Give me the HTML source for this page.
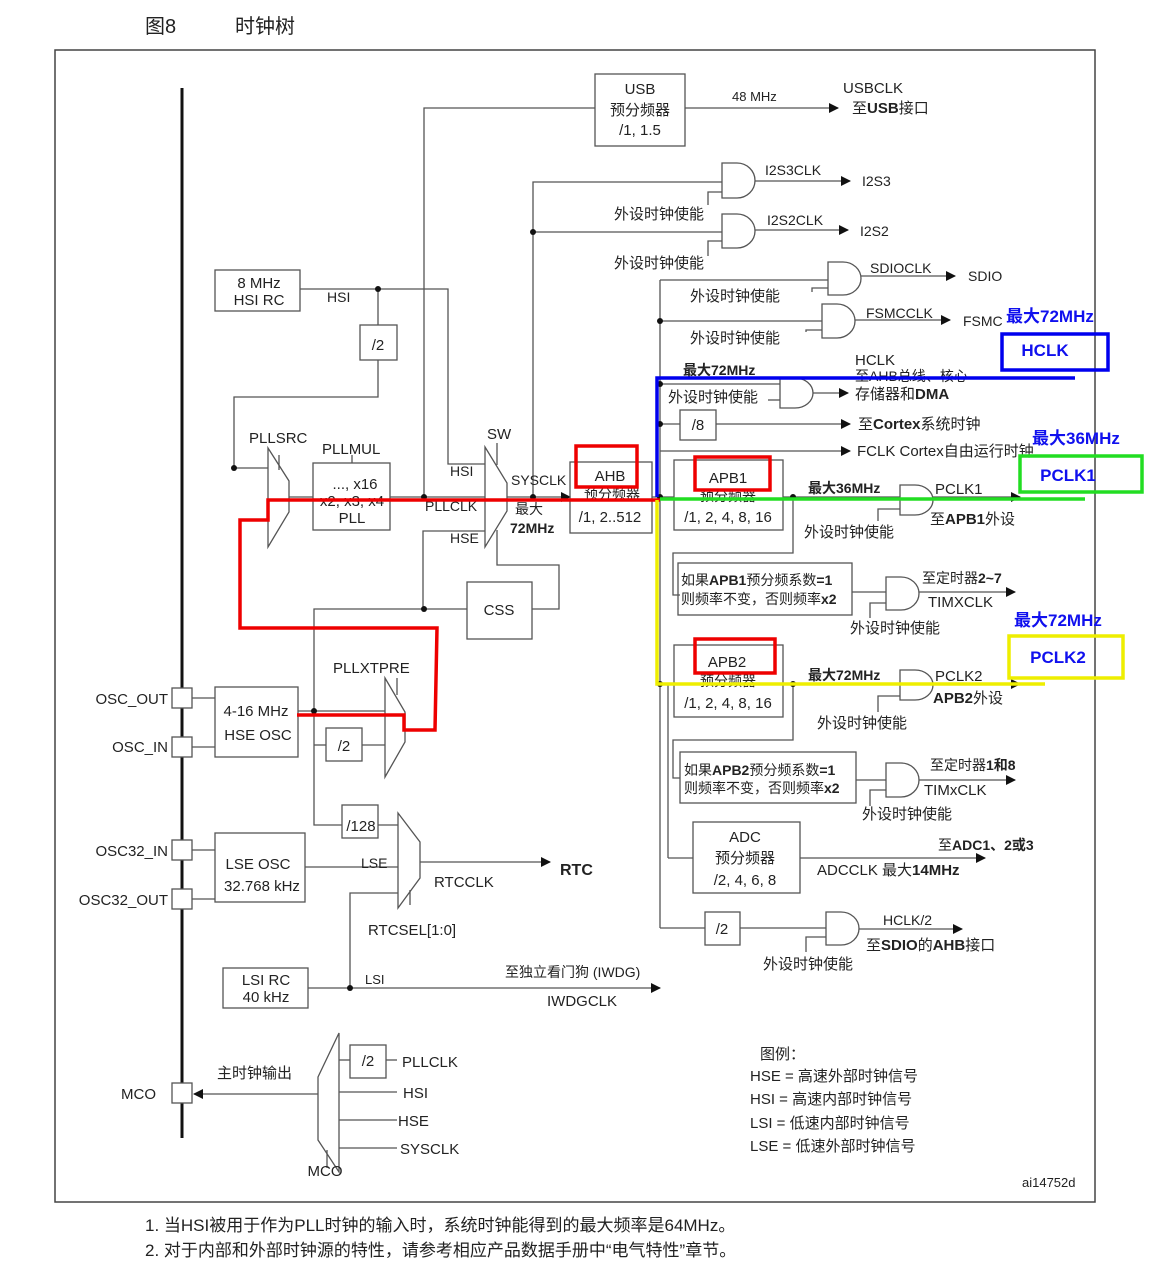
<!DOCTYPE html>
<html><head><meta charset="utf-8"><style>
html,body{margin:0;padding:0;background:#fff}
svg{display:block}
text{font-family:"Liberation Sans","Noto Sans CJK SC",sans-serif;fill:#222;font-size:15px}
.b{font-weight:bold}
.c{text-anchor:middle}
.r{text-anchor:end}
.bl{fill:#1010ee;font-weight:bold;font-size:17px}
</style></head><body>
<svg width="1152" height="1262" viewBox="0 0 1152 1262" xmlns="http://www.w3.org/2000/svg">
<defs><marker id="a" markerWidth="10" markerHeight="10" refX="9" refY="5" orient="auto" markerUnits="userSpaceOnUse"><path d="M0,0 L10,5 L0,10 z" fill="#111"/></marker></defs>
<text x="145" y="33" style="font-size:20px">图8</text><text x="235" y="33" style="font-size:20px">时钟树</text>
<rect x="55" y="50" width="1040" height="1152" fill="none" stroke="#444" stroke-width="1.5"/>
<line x1="182" y1="88" x2="182" y2="1138" stroke="#111" stroke-width="3"/>
<g fill="none" stroke="#555" stroke-width="1.3">
<!-- USB -->
<rect x="595" y="74" width="90" height="72"/>
<polyline points="424,497 424,108 595,108"/>
<line x1="685" y1="108" x2="838" y2="108" marker-end="url(#a)"/>
<!-- I2S -->
<polyline points="533,497 533,182 722,182"/>
<line x1="533" y1="232" x2="722" y2="232"/>
<path d="M722 163 H737 A18 17.5 0 0 1 737 198 H722 Z"/>
<path d="M722 214 H737 A18 17 0 0 1 737 248 H722 Z"/>
<line x1="755" y1="181" x2="850" y2="181" marker-end="url(#a)"/>
<line x1="755" y1="230" x2="848" y2="230" marker-end="url(#a)"/>
<polyline points="708,205 708,192 722,192"/><polyline points="708,256 708,241 722,241"/>
<!-- main bus -->
<line x1="660" y1="280" x2="660" y2="928"/>
<line x1="660" y1="280" x2="828" y2="280"/>
<path d="M828 262 H843 A18 16.5 0 0 1 843 295 H828 Z"/>
<line x1="861" y1="276" x2="955" y2="276" marker-end="url(#a)"/>
<line x1="660" y1="321" x2="822" y2="321"/>
<path d="M822 304 H837 A18 17 0 0 1 837 338 H822 Z"/>
<line x1="855" y1="320" x2="950" y2="320" marker-end="url(#a)"/>
<polyline points="812,292 812,288 828,288"/><polyline points="806,332 806,330 822,330"/>
<line x1="660" y1="384" x2="780" y2="384"/>
<path d="M780 378 H795 A18 15 0 0 1 795 408 H780 Z"/>
<line x1="768" y1="400" x2="780" y2="400"/>
<line x1="813" y1="393" x2="848" y2="393" marker-end="url(#a)"/>
<rect x="680" y="410" width="36" height="30"/>
<line x1="660" y1="424" x2="680" y2="424"/>
<line x1="716" y1="424" x2="850" y2="424" marker-end="url(#a)"/>
<line x1="660" y1="451" x2="850" y2="451" marker-end="url(#a)"/>
<!-- APB1 -->
<rect x="674" y="460" width="109" height="70"/>
<line x1="783" y1="497" x2="900" y2="497"/>
<path d="M900 485 H915 A18 15 0 0 1 915 515 H900 Z"/>
<line x1="933" y1="497" x2="1020" y2="497" marker-end="url(#a)"/>
<polyline points="878,521 878,509 900,509"/>
<polyline points="793,497 793,553 673,553 673,595 680,595"/>
<rect x="678" y="563" width="174" height="52"/>
<line x1="852" y1="592" x2="886" y2="592"/>
<path d="M886 577 H901 A18 16.5 0 0 1 901 610 H886 Z"/>
<polyline points="870,618 870,603 886,603"/>
<line x1="919" y1="592" x2="1015" y2="592" marker-end="url(#a)"/>
<!-- APB2 -->
<rect x="674" y="645" width="109" height="72"/>
<line x1="783" y1="684" x2="900" y2="684"/>
<path d="M900 670 H915 A18 15 0 0 1 915 700 H900 Z"/>
<line x1="933" y1="684" x2="1020" y2="684" marker-end="url(#a)"/>
<polyline points="878,712 878,696 900,696"/>
<polyline points="793,684 793,740 673,740 673,778 680,778"/>
<rect x="680" y="752" width="176" height="51"/>
<line x1="856" y1="780" x2="886" y2="780"/>
<path d="M886 763 H901 A18 17 0 0 1 901 797 H886 Z"/>
<polyline points="870,806 870,790 886,790"/>
<line x1="919" y1="780" x2="1015" y2="780" marker-end="url(#a)"/>
<line x1="668" y1="684" x2="668" y2="858"/>
<line x1="668" y1="858" x2="693" y2="858"/>
<rect x="693" y="822" width="107" height="71"/>
<line x1="800" y1="858" x2="985" y2="858" marker-end="url(#a)"/>
<line x1="660" y1="928" x2="705" y2="928"/>
<rect x="705" y="912" width="35" height="33"/>
<line x1="740" y1="928" x2="826" y2="928"/>
<path d="M826 912 H841 A18 16.5 0 0 1 841 945 H826 Z"/>
<polyline points="806,952 806,937 826,937"/>
<line x1="859" y1="929" x2="962" y2="929" marker-end="url(#a)"/>
<!-- HSI/PLL -->
<rect x="215" y="270" width="85" height="41"/>
<polyline points="300,289 448,289 448,464 485,464"/>
<line x1="378" y1="289" x2="378" y2="325"/>
<rect x="360" y="325" width="37" height="35"/>
<polyline points="378,360 378,397 234,397 234,468 268,468"/>
<path d="M268 448 L289 481 L289 512 L268 547 Z"/>
<line x1="279" y1="455" x2="279" y2="470"/>
<rect x="313" y="463" width="77" height="67"/>
<line x1="352" y1="455" x2="352" y2="463"/>
<line x1="289" y1="497" x2="313" y2="497"/>
<line x1="390" y1="497" x2="485" y2="497"/>
<path d="M485 447 L507 483 L507 511 L485 547 Z"/>
<line x1="497" y1="443" x2="497" y2="465"/>
<line x1="507" y1="497" x2="570" y2="497" marker-end="url(#a)"/>
<line x1="652" y1="497" x2="674" y2="497"/>
<rect x="570" y="462" width="82" height="71"/>
<polyline points="423,609 423,531 485,531"/>
<polyline points="497,530 497,565 559,565 559,609 532,609"/>
<rect x="467" y="582" width="65" height="57"/>
<polyline points="467,609 314,609 314,825 342,825"/>
<!-- HSE -->
<rect x="215" y="687" width="83" height="70"/>
<rect x="172" y="688" width="20" height="20" fill="#fff"/><rect x="172" y="737" width="20" height="20" fill="#fff"/>
<line x1="192" y1="698" x2="215" y2="698"/><line x1="192" y1="747" x2="215" y2="747"/>
<line x1="298" y1="711" x2="385" y2="711"/>
<path d="M385 678 L405 712 L405 742 L385 777 Z"/>
<line x1="397" y1="678" x2="397" y2="695"/>
<polyline points="314,745 326,745"/><rect x="326" y="728" width="36" height="33"/><line x1="362" y1="745" x2="385" y2="745"/>
<rect x="342" y="805" width="36" height="33"/><line x1="378" y1="825" x2="398" y2="825"/>
<path d="M398 813 L420 842 L420 878 L398 908 Z"/>
<line x1="410" y1="890" x2="410" y2="905"/>
<line x1="420" y1="862" x2="550" y2="862" marker-end="url(#a)"/>
<rect x="215" y="833" width="90" height="69"/>
<rect x="172" y="840" width="20" height="20" fill="#fff"/><rect x="172" y="889" width="20" height="20" fill="#fff"/>
<line x1="192" y1="850" x2="215" y2="850"/><line x1="192" y1="899" x2="215" y2="899"/>
<line x1="305" y1="867" x2="398" y2="867"/>
<polyline points="398,893 350,893 350,988"/>
<rect x="223" y="968" width="85" height="40"/>
<line x1="308" y1="988" x2="660" y2="988" marker-end="url(#a)"/>
<!-- MCO -->
<path d="M339 1033 L339 1172 L318 1140 L318 1077 Z"/>
<line x1="327" y1="1150" x2="327" y2="1168"/>
<rect x="350" y="1045" width="36" height="33"/>
<line x1="339" y1="1060" x2="350" y2="1060"/><line x1="386" y1="1060" x2="397" y2="1060"/>
<line x1="339" y1="1092" x2="397" y2="1092"/><line x1="339" y1="1120" x2="397" y2="1120"/><line x1="339" y1="1148" x2="397" y2="1148"/>
<rect x="172" y="1083" width="20" height="20" fill="#fff"/>
<line x1="318" y1="1094" x2="194" y2="1094" marker-end="url(#a)"/>
</g>
<g fill="#111">
<circle cx="424" cy="497" r="3"/><circle cx="533" cy="497" r="3"/><circle cx="533" cy="232" r="3"/><circle cx="378" cy="289" r="3"/><circle cx="234" cy="468" r="3"/><circle cx="424" cy="609" r="3"/><circle cx="314" cy="711" r="3"/><circle cx="350" cy="988" r="3"/><circle cx="660" cy="321" r="3"/><circle cx="660" cy="384" r="3"/><circle cx="660" cy="424" r="3"/><circle cx="793" cy="497" r="3"/><circle cx="793" cy="684" r="3"/><circle cx="660" cy="684" r="3"/><circle cx="660" cy="497" r="3"/>
</g>
<!-- texts -->
<text x="640" y="94" class="c">USB</text><text x="640" y="115" class="c">预分频器</text><text x="640" y="135" class="c">/1, 1.5</text>
<text x="732" y="101" style="font-size:13px">48 MHz</text><text x="843" y="93">USBCLK</text><text x="852" y="113">至<tspan class="b">USB</tspan>接口</text>
<text x="765" y="175" style="font-size:14px">I2S3CLK</text><text x="862" y="186" style="font-size:14px">I2S3</text><text x="614" y="219">外设时钟使能</text>
<text x="767" y="225" style="font-size:14px">I2S2CLK</text><text x="860" y="236" style="font-size:14px">I2S2</text><text x="614" y="268">外设时钟使能</text>
<text x="870" y="273" style="font-size:14px">SDIOCLK</text><text x="968" y="281" style="font-size:14px">SDIO</text><text x="690" y="301">外设时钟使能</text>
<text x="866" y="318" style="font-size:14px">FSMCCLK</text><text x="963" y="326" style="font-size:14px">FSMC</text><text x="690" y="343">外设时钟使能</text>
<text x="1006" y="322" class="bl">最大72MHz</text>
<text x="683" y="375" class="b" style="font-size:14px">最大72MHz</text><text x="855" y="365">HCLK</text><text x="855" y="381" style="font-size:14px">至AHB总线、核心</text><text x="855" y="399">存储器和<tspan class="b">DMA</tspan></text><text x="668" y="402">外设时钟使能</text>
<text x="698" y="430" class="c">/8</text><text x="858" y="429">至<tspan class="b">Cortex</tspan>系统时钟</text><text x="857" y="456">FCLK Cortex自由运行时钟</text>
<text x="1032" y="444" class="bl">最大36MHz</text><text x="1014" y="626" class="bl">最大72MHz</text>
<text x="728" y="483" class="c">APB1</text><text x="728" y="501" class="c" style="font-size:14px">预分频器</text><text x="728" y="522" class="c">/1, 2, 4, 8, 16</text>
<text x="808" y="493" class="b" style="font-size:14px">最大36MHz</text><text x="935" y="494">PCLK1</text><text x="930" y="524">至<tspan class="b">APB1</tspan>外设</text><text x="804" y="537">外设时钟使能</text>
<text x="681" y="585" style="font-size:14px">如果<tspan class="b">APB1</tspan>预分频系数<tspan class="b">=1</tspan></text><text x="681" y="604" style="font-size:14px">则频率不变，否则频率<tspan class="b">x2</tspan></text>
<text x="922" y="583" style="font-size:14px">至定时器<tspan class="b">2~7</tspan></text><text x="928" y="607">TIMXCLK</text><text x="850" y="633">外设时钟使能</text>
<text x="727" y="667" class="c">APB2</text><text x="728" y="686" class="c" style="font-size:14px">预分频器</text><text x="728" y="708" class="c">/1, 2, 4, 8, 16</text>
<text x="808" y="680" class="b" style="font-size:14px">最大72MHz</text><text x="935" y="681">PCLK2</text><text x="933" y="703"><tspan class="b">APB2</tspan>外设</text><text x="817" y="728">外设时钟使能</text>
<text x="684" y="775" style="font-size:14px">如果<tspan class="b">APB2</tspan>预分频系数<tspan class="b">=1</tspan></text><text x="684" y="793" style="font-size:14px">则频率不变，否则频率<tspan class="b">x2</tspan></text>
<text x="930" y="770" style="font-size:14px">至定时器<tspan class="b">1和8</tspan></text><text x="924" y="795">TIMxCLK</text><text x="862" y="819">外设时钟使能</text>
<text x="745" y="842" class="c">ADC</text><text x="745" y="863" class="c">预分频器</text><text x="745" y="885" class="c">/2, 4, 6, 8</text>
<text x="938" y="850" style="font-size:14px">至<tspan class="b">ADC1、2或3</tspan></text><text x="817" y="875">ADCCLK  最大<tspan class="b">14MHz</tspan></text>
<text x="722" y="934" class="c">/2</text><text x="883" y="925" style="font-size:14px">HCLK/2</text><text x="866" y="950">至<tspan class="b">SDIO</tspan>的<tspan class="b">AHB</tspan>接口</text><text x="763" y="969">外设时钟使能</text>
<text x="259" y="288" class="c">8 MHz</text><text x="259" y="305" class="c">HSI RC</text><text x="327" y="302" style="font-size:14px">HSI</text><text x="378" y="350" class="c">/2</text>
<text x="249" y="443">PLLSRC</text><text x="322" y="454">PLLMUL</text><text x="355" y="489" class="c">..., x16</text><text x="352" y="506" class="c">x2, x3, x4</text><text x="352" y="523" class="c">PLL</text>
<text x="425" y="511" style="font-size:14px">PLLCLK</text><text x="487" y="439">SW</text><text x="450" y="476" style="font-size:14px">HSI</text><text x="450" y="543" style="font-size:14px">HSE</text>
<text x="511" y="485" style="font-size:14px">SYSCLK</text><text x="515" y="514" style="font-size:14px">最大</text><text x="510" y="533" class="b" style="font-size:14px">72MHz</text>
<text x="610" y="481" class="c">AHB</text><text x="612" y="499" class="c" style="font-size:14px">预分频器</text><text x="610" y="522" class="c">/1, 2..512</text>
<text x="499" y="615" class="c">CSS</text><text x="333" y="673">PLLXTPRE</text>
<text x="256" y="716" class="c">4-16 MHz</text><text x="258" y="740" class="c">HSE OSC</text>
<text x="168" y="704" class="r">OSC_OUT</text><text x="168" y="752" class="r">OSC_IN</text>
<text x="344" y="751" class="c">/2</text><text x="361" y="831" class="c">/128</text>
<text x="258" y="869" class="c">LSE OSC</text><text x="262" y="891" class="c">32.768 kHz</text>
<text x="168" y="856" class="r">OSC32_IN</text><text x="168" y="905" class="r">OSC32_OUT</text>
<text x="361" y="868" style="font-size:14px">LSE</text><text x="434" y="887">RTCCLK</text><text x="560" y="875" class="b" style="font-size:16px">RTC</text><text x="368" y="935">RTCSEL[1:0]</text>
<text x="266" y="985" class="c">LSI RC</text><text x="266" y="1002" class="c">40 kHz</text><text x="365" y="984" style="font-size:13px">LSI</text>
<text x="505" y="977" style="font-size:14px">至独立看门狗 (IWDG)</text><text x="547" y="1006">IWDGCLK</text>
<text x="368" y="1066" class="c">/2</text><text x="402" y="1067">PLLCLK</text><text x="403" y="1098">HSI</text><text x="398" y="1126">HSE</text><text x="400" y="1154">SYSCLK</text>
<text x="217" y="1078">主时钟输出</text><text x="121" y="1099">MCO</text><text x="325" y="1176" class="c">MCO</text>
<text x="760" y="1059">图例：</text><text x="750" y="1081">HSE = 高速外部时钟信号</text><text x="750" y="1104">HSI = 高速内部时钟信号</text><text x="750" y="1128">LSI = 低速内部时钟信号</text><text x="750" y="1151">LSE = 低速外部时钟信号</text>
<text x="1022" y="1187" style="font-size:13px">ai14752d</text>
<text x="145" y="1231" style="font-size:17px">1.  当HSI被用于作为PLL时钟的输入时，系统时钟能得到的最大频率是64MHz。</text>
<text x="145" y="1256" style="font-size:17px">2.  对于内部和外部时钟源的特性，请参考相应产品数据手册中“电气特性”章节。</text>
<!-- highlights -->
<g fill="none" stroke-width="3.5">
<rect x="576" y="446" width="61" height="41" stroke="#e00"/>
<rect x="695" y="457" width="75" height="33" stroke="#e00"/>
<rect x="695" y="639" width="80" height="34" stroke="#e00"/>
<polyline points="297,715 404,715 404,730 435,730 437,628 240,628 240,520 268,520 268,500 660,500" stroke="#e00"/>
<polyline points="657,497 657,378 1075,378" stroke="#00e"/>
<line x1="660" y1="499" x2="1085" y2="499" stroke="#2d2"/>
<polyline points="657,500 657,684 1045,684" stroke="#ee0"/>
<rect x="1002" y="334" width="106" height="36" stroke="#00e"/>
<rect x="1020" y="456" width="122" height="36" stroke="#2d2"/>
<rect x="1009" y="636" width="114" height="42" stroke="#ee0"/>
</g>
<text x="1045" y="356" class="bl c">HCLK</text><text x="1068" y="481" class="bl c">PCLK1</text><text x="1058" y="663" class="bl c">PCLK2</text>
</svg>
</body></html>
